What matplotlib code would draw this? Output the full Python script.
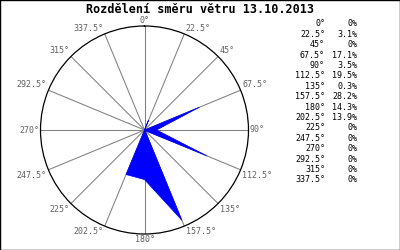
import numpy as np
import matplotlib
matplotlib.use("Agg")
import matplotlib.pyplot as plt
from matplotlib.transforms import offset_copy

title = "Rozdělení směru větru 13.10.2013"
directions = [0, 22.5, 45, 67.5, 90, 112.5, 135, 157.5, 180, 202.5, 225, 247.5, 270, 292.5, 315, 337.5]
dir_labels = ["0°", "22.5°", "45°", "67.5°", "90°", "112.5°", "135°", "157.5°", "180°",
              "202.5°", "225°", "247.5°", "270°", "292.5°", "315°", "337.5°"]
values = [0, 3.1, 0, 17.1, 3.5, 19.5, 0.3, 28.2, 14.3, 13.9, 0, 0, 0, 0, 0, 0]
value_labels = ["0%", "3.1%", "0%", "17.1%", "3.5%", "19.5%", "0.3%", "28.2%", "14.3%",
                "13.9%", "0%", "0%", "0%", "0%", "0%", "0%"]
rmax = 30.0

W, H = 400, 250
fig = plt.figure(figsize=(W / 100, H / 100), dpi=100)
fig.patch.set_facecolor("white")

# frame
frame = fig.add_axes([0, 0, 1, 1])
frame.set_xlim(0, W); frame.set_ylim(H, 0)
frame.set_xticks([]); frame.set_yticks([])
for s in frame.spines.values():
    s.set_color("black"); s.set_linewidth(1.0)
frame.patch.set_alpha(0)

cx, cy, R = 144.5, 130.0, 104.0
ax = fig.add_axes([(cx - R) / W, (H - cy - R) / H, 2 * R / W, 2 * R / H], projection="polar")
ax.set_theta_zero_location("N")
ax.set_theta_direction(-1)
ax.set_ylim(0, rmax)
ax.set_rticks([])
ax.set_thetagrids(directions, labels=[""] * len(directions))
ax.grid(True, color="#808080", linewidth=0.75)
ax.yaxis.grid(False)
ax.spines["polar"].set_color("black")
ax.spines["polar"].set_linewidth(0.9)
ax.set_axisbelow(True)

th = np.deg2rad(directions)
ax.fill(np.append(th, th[0]), np.append(values, values[0]), facecolor="#0000ff",
        edgecolor="#0000ff", linewidth=0.5, zorder=3)

mono = "DejaVu Sans Mono"
for d, lab in zip(directions, dir_labels):
    s, c = np.sin(np.deg2rad(d)), np.cos(np.deg2rad(d))
    if abs(s) < 0.01:
        ha = "center"; dx = 0
    elif s > 0:
        ha = "left"; dx = 1.5
    else:
        ha = "right"; dx = -1.5
    if abs(c) < 0.01:
        va = "center"; dy = 0
    elif c > 0:
        va = "bottom"; dy = 1
    else:
        va = "top"; dy = -1
    tr = offset_copy(ax.transData, fig=fig, x=dx, y=dy, units="dots")
    ax.text(np.deg2rad(d), rmax, lab, transform=tr, ha=ha, va=va, fontsize=6,
            family=mono, color="#606060", clip_on=False)

fig.text(200 / W, 1 - 9.5 / H, title, ha="center", va="center", fontsize=8.5,
         family=mono, fontweight="bold", color="black")

for i, (dl, vl) in enumerate(zip(dir_labels, value_labels)):
    y = 1 - (24 + i * 10.4) / H
    fig.text(325 / W, y, dl, ha="right", va="center", fontsize=6, family=mono, color="black")
    fig.text(357 / W, y, vl, ha="right", va="center", fontsize=6, family=mono, color="black")

fig.savefig("out.png", dpi=100)
